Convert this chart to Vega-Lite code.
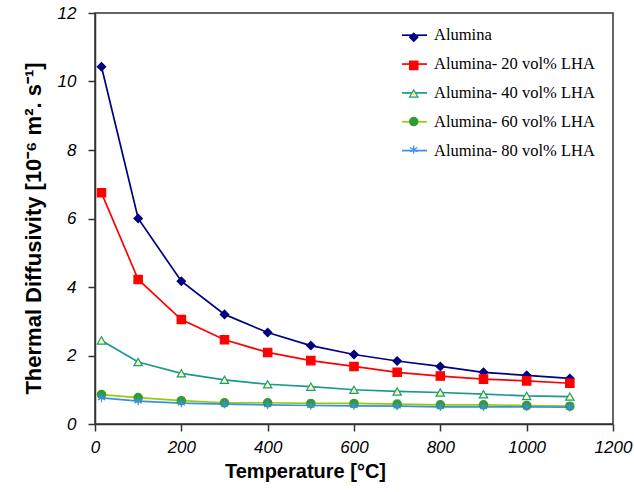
{
  "$schema": "https://vega.github.io/schema/vega-lite/v6.json",
  "autosize": "none",
  "width": 518,
  "height": 411,
  "padding": {"left": 95, "top": 13, "right": 21, "bottom": 68},
  "background": "white",
  "config": {
    "view": {"stroke": "#333333", "strokeWidth": 1.5},
    "axis": {
      "grid": false,
      "domainColor": "#333333",
      "domainWidth": 1.5,
      "tickColor": "#333333",
      "tickWidth": 1.5,
      "tickSize": 7,
      "labelFont": "Liberation Sans",
      "labelFontStyle": "italic",
      "labelFontSize": 17,
      "labelColor": "black",
      "titleFont": "Liberation Sans",
      "titleFontWeight": "bold",
      "titleFontSize": 20,
      "titleColor": "black"
    },
    "legend": {"padding": 0, "labelFont": "Liberation Serif", "labelFontSize": 16.5, "labelColor": "black", "labelLimit": 400}
  },
  "data": {
    "values": [
      {"series": "Alumina", "T": 15, "D": 10.43},
      {"series": "Alumina", "T": 100, "D": 6.0},
      {"series": "Alumina", "T": 200, "D": 4.17},
      {"series": "Alumina", "T": 300, "D": 3.2},
      {"series": "Alumina", "T": 400, "D": 2.67},
      {"series": "Alumina", "T": 500, "D": 2.29},
      {"series": "Alumina", "T": 600, "D": 2.03},
      {"series": "Alumina", "T": 700, "D": 1.84},
      {"series": "Alumina", "T": 800, "D": 1.68},
      {"series": "Alumina", "T": 900, "D": 1.51},
      {"series": "Alumina", "T": 1000, "D": 1.42},
      {"series": "Alumina", "T": 1100, "D": 1.33},
      {"series": "Alumina- 20 vol% LHA", "T": 15, "D": 6.75},
      {"series": "Alumina- 20 vol% LHA", "T": 100, "D": 4.22},
      {"series": "Alumina- 20 vol% LHA", "T": 200, "D": 3.05},
      {"series": "Alumina- 20 vol% LHA", "T": 300, "D": 2.46},
      {"series": "Alumina- 20 vol% LHA", "T": 400, "D": 2.09},
      {"series": "Alumina- 20 vol% LHA", "T": 500, "D": 1.85},
      {"series": "Alumina- 20 vol% LHA", "T": 600, "D": 1.68},
      {"series": "Alumina- 20 vol% LHA", "T": 700, "D": 1.51},
      {"series": "Alumina- 20 vol% LHA", "T": 800, "D": 1.40},
      {"series": "Alumina- 20 vol% LHA", "T": 900, "D": 1.31},
      {"series": "Alumina- 20 vol% LHA", "T": 1000, "D": 1.26},
      {"series": "Alumina- 20 vol% LHA", "T": 1100, "D": 1.19},
      {"series": "Alumina- 40 vol% LHA", "T": 15, "D": 2.44},
      {"series": "Alumina- 40 vol% LHA", "T": 100, "D": 1.81},
      {"series": "Alumina- 40 vol% LHA", "T": 200, "D": 1.48},
      {"series": "Alumina- 40 vol% LHA", "T": 300, "D": 1.29},
      {"series": "Alumina- 40 vol% LHA", "T": 400, "D": 1.16},
      {"series": "Alumina- 40 vol% LHA", "T": 500, "D": 1.09},
      {"series": "Alumina- 40 vol% LHA", "T": 600, "D": 1.00},
      {"series": "Alumina- 40 vol% LHA", "T": 700, "D": 0.95},
      {"series": "Alumina- 40 vol% LHA", "T": 800, "D": 0.92},
      {"series": "Alumina- 40 vol% LHA", "T": 900, "D": 0.87},
      {"series": "Alumina- 40 vol% LHA", "T": 1000, "D": 0.82},
      {"series": "Alumina- 40 vol% LHA", "T": 1100, "D": 0.80},
      {"series": "Alumina- 60 vol% LHA", "T": 15, "D": 0.86},
      {"series": "Alumina- 60 vol% LHA", "T": 100, "D": 0.77},
      {"series": "Alumina- 60 vol% LHA", "T": 200, "D": 0.68},
      {"series": "Alumina- 60 vol% LHA", "T": 300, "D": 0.62},
      {"series": "Alumina- 60 vol% LHA", "T": 400, "D": 0.62},
      {"series": "Alumina- 60 vol% LHA", "T": 500, "D": 0.60},
      {"series": "Alumina- 60 vol% LHA", "T": 600, "D": 0.60},
      {"series": "Alumina- 60 vol% LHA", "T": 700, "D": 0.58},
      {"series": "Alumina- 60 vol% LHA", "T": 800, "D": 0.56},
      {"series": "Alumina- 60 vol% LHA", "T": 900, "D": 0.56},
      {"series": "Alumina- 60 vol% LHA", "T": 1000, "D": 0.54},
      {"series": "Alumina- 60 vol% LHA", "T": 1100, "D": 0.52},
      {"series": "Alumina- 80 vol% LHA", "T": 15, "D": 0.76},
      {"series": "Alumina- 80 vol% LHA", "T": 100, "D": 0.67},
      {"series": "Alumina- 80 vol% LHA", "T": 200, "D": 0.61},
      {"series": "Alumina- 80 vol% LHA", "T": 300, "D": 0.58},
      {"series": "Alumina- 80 vol% LHA", "T": 400, "D": 0.56},
      {"series": "Alumina- 80 vol% LHA", "T": 500, "D": 0.54},
      {"series": "Alumina- 80 vol% LHA", "T": 600, "D": 0.53},
      {"series": "Alumina- 80 vol% LHA", "T": 700, "D": 0.52},
      {"series": "Alumina- 80 vol% LHA", "T": 800, "D": 0.50},
      {"series": "Alumina- 80 vol% LHA", "T": 900, "D": 0.50},
      {"series": "Alumina- 80 vol% LHA", "T": 1000, "D": 0.50},
      {"series": "Alumina- 80 vol% LHA", "T": 1100, "D": 0.49}
    ]
  },
  "encoding": {
    "x": {
      "field": "T", "type": "quantitative",
      "scale": {"domain": [0, 1200], "nice": false},
      "axis": {"values": [0, 200, 400, 600, 800, 1000, 1200], "format": "d", "title": "Temperature [°C]", "titleX": 210, "titlePadding": 6, "labelPadding": 8, "labelFlush": false}
    },
    "y": {
      "field": "D", "type": "quantitative",
      "scale": {"domain": [0, 12], "nice": false},
      "axis": {"values": [0, 2, 4, 6, 8, 10, 12], "title": "Thermal Diffusivity [10⁻⁶ m². s⁻¹]", "titleFontSize": 22, "titleY": 215, "titlePadding": 12, "labelPadding": 12, "labelFlush": false}
    }
  },
  "layer": [
    {
      "mark": {"type": "line", "strokeWidth": 1.7},
      "encoding": {
        "color": {
          "field": "series", "type": "nominal",
          "scale": {"range": ["#000080", "#FF0000", "#1A9A8A", "#99CC00", "#3A8FE8"]},
          "legend": {
            "orient": "none", "legendX": 306, "legendY": 8.7, "title": null,
            "symbolType": "stroke", "symbolSize": 625, "symbolStrokeWidth": 1.7,
            "labelOffset": 6, "rowPadding": 6.85, "labelLimit": 400
          }
        }
      }
    },
    {
      "mark": {"type": "point", "filled": true, "size": 70, "strokeWidth": 1.2, "opacity": 1},
      "encoding": {
        "shape": {
          "field": "series", "type": "nominal",
          "scale": {
            "domain": ["Alumina", "Alumina- 20 vol% LHA", "Alumina- 40 vol% LHA", "Alumina- 60 vol% LHA", "Alumina- 80 vol% LHA"],
            "range": ["diamond", "square", "triangle-up", "circle", "M0,-1V1M-0.87,-0.5L0.87,0.5M-0.87,0.5L0.87,-0.5"]
          },
          "legend": {
            "orient": "none", "legendX": 310.5, "legendY": 16, "title": null,
            "labelExpr": "' '", "symbolSize": 70, "symbolStrokeWidth": 1.2, "symbolOpacity": 1,
            "rowPadding": 11.1
          }
        },
        "fill": {
          "field": "series", "type": "nominal",
          "scale": {
            "domain": ["Alumina", "Alumina- 20 vol% LHA", "Alumina- 40 vol% LHA", "Alumina- 60 vol% LHA", "Alumina- 80 vol% LHA"],
            "range": ["#000080", "#FF0000", "#FFFF99", "#2E9A3A", "#3A8FE8"]
          },
          "legend": null
        },
        "stroke": {
          "field": "series", "type": "nominal",
          "scale": {
            "domain": ["Alumina", "Alumina- 20 vol% LHA", "Alumina- 40 vol% LHA", "Alumina- 60 vol% LHA", "Alumina- 80 vol% LHA"],
            "range": ["#000080", "#FF0000", "#1A9A8A", "#3C9A2A", "#3A8FE8"]
          },
          "legend": null
        }
      }
    }
  ]
}
